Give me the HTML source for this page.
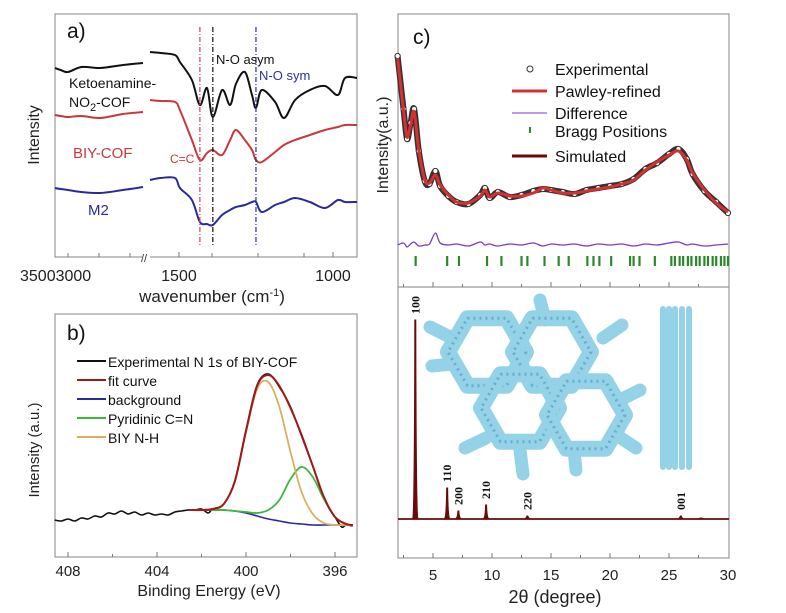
<!DOCTYPE html>
<html><head><meta charset="utf-8"><style>
html,body{margin:0;padding:0;background:#fff;}
svg{display:block;font-family:"Liberation Sans",Arial,sans-serif;}
</style></head><body>
<svg id="fig" width="786" height="613" viewBox="0 0 786 613" xmlns="http://www.w3.org/2000/svg"></svg>
<script>
// ---------- Panel a (FTIR) data ----------
const irLeftW = [3404, 3350, 3279, 3150, 2971, 2750, 2558];
const irBlackLeft = [189, 187, 185, 190, 189, 192, 194];
const irRedLeft = [142, 141, 140, 141, 139, 143, 145];
const irBlueLeft = [69, 68, 67, 65, 64, 67, 70];
const irRightW = [1594,1560,1513,1497,1458,1432,1409,1390,1360,1334,1315,1286,1263,1250,1231,1188,1159,1123,1075,1026,984,961,922];
const irBlackRight = [205,204,202,195,177,152,169,140,167,152,173,185,162,149,167,155,139,157,167,171,162,179,179];
const irRedRight = [157,156,155,147,117,97,104,107,102,117,127,117,107,97,95,105,112,117,122,127,130,132,132];
const irBlueRight = [77,79,79,69,57,35,33,32,42,47,50,52,55,55,45,52,55,59,55,49,57,55,55];
const irMarkers = [1432, 1390, 1250];
const irMarkerColors = ["#d04060", "#111", "#2030a0"];
const irTicksRight = [1500, 1000];

// ---------- Panel b (XPS) data ----------
const xpsE = [402.5,402,401.5,401,400.5,400,399.5,399,398.5,398,397.5,397,396.5,396,395.5,395.2];
const xpsBg = [47,47,47,47,46,44,41,38,36,34,33,32,32,32,32,32];
const xpsGreen = [47,47,47,47,46,45,44,47,57,78,90,80,58,40,33,32];
const xpsGold = [47,47,48,53,75,125,168,175,150,105,65,43,34,32,32,32];
const xpsFit = [47,47,48,53,76,126,171,182,171,149,122,91,60,40,33,32];
const xpsExpE = [408.6,408.3,408,407.7,407.4,407.1,406.8,406.5,406.2,405.9,405.6,405.3,405,404.7,404.4,404.1,403.8,403.5,403.2,402.9,402.6,402.3,402,401.7,401.5,401,400.5,400,399.5,399,398.5,398,397.5,397,396.5,396,395.7,395.5,395.2];
const xpsExp = [37,36,38,36,39,38,41,40,44,43,46,43,45,42,44,42,43,42,45,46,47,47,48,44,48,53,76,127,172,183,170,150,121,91,59,40,30,32,31];
const xpsTicks = [408, 404, 400, 396];

// ---------- Panel c (PXRD) data ----------
const pxTheta = [2.0,2.5,2.8,3.1,3.4,3.8,4.3,4.7,5.2,5.6,6.3,7,8,9,9.4,9.8,10.5,11.5,12.5,13.5,14.3,15,16,17,18,19,20,21,22,23,24,25,25.8,26.5,27,28,29,30];
const pxPawley = [229,177,150,162,175,137,107,104,112,102,92,85,84,91,97,90,94,91,91,94,99,97,94,94,96,98,100,103,107,117,125,132,136,127,114,97,84,75];
const pxExp = [231,178,148,164,178,136,106,103,116,101,91,85,83,92,99,89,95,90,92,96,98,97,95,93,97,99,101,103,108,118,124,133,138,128,113,96,85,74];
const pxDiff = [0,2,-2,1,3,-1,0,1,12,2,0,1,-1,3,0,1,-1,1,0,2,-1,1,0,1,-1,1,0,1,-1,1,0,2,3,0,1,-1,0,1];
const pxBragg = [3.53,6.2,7.2,9.58,10.8,12.5,13.0,14.45,15.65,16.5,18.08,18.6,19.1,20.1,21.7,22.0,22.5,23.8,25.2,25.5,25.9,26.2,26.6,26.9,27.3,27.6,28.0,28.3,28.7,29.0,29.4,29.7,30];
const simPos = [3.5,6.2,7.15,9.5,13.0,26.0,27.7];
const simHeight = [199,31,8,14,3,3,1];
const simLabels = ["100","110","200","210","220","001",""];
const pxTicks = [5,10,15,20,25,30];

const NS = "http://www.w3.org/2000/svg";
const svg = document.getElementById("fig");
function el(tag, attrs, parent, text){
  const e = document.createElementNS(NS, tag);
  for (const k in attrs) e.setAttribute(k, attrs[k]);
  if (text !== undefined) e.textContent = text;
  (parent || svg).appendChild(e);
  return e;
}
function smooth(pts){
  if (pts.length < 2) return "";
  let d = "M" + pts[0][0].toFixed(1) + "," + pts[0][1].toFixed(1);
  for (let i = 0; i < pts.length - 1; i++){
    const p0 = pts[Math.max(0,i-1)], p1 = pts[i], p2 = pts[i+1], p3 = pts[Math.min(pts.length-1,i+2)];
    const c1x = p1[0] + (p2[0]-p0[0])/6, c1y = p1[1] + (p2[1]-p0[1])/6;
    const c2x = p2[0] - (p3[0]-p1[0])/6, c2y = p2[1] - (p3[1]-p1[1])/6;
    d += " C" + c1x.toFixed(1)+","+c1y.toFixed(1)+" "+c2x.toFixed(1)+","+c2y.toFixed(1)+" "+p2[0].toFixed(1)+","+p2[1].toFixed(1);
  }
  return d;
}
function lin(d0,d1,r0,r1){ return v => r0 + (v-d0)*(r1-r0)/(d1-d0); }

// ================= Panel a =================
const ga = el("g", {});


const axL = lin(3404, 2558, 55, 143);
const axR = lin(1594, 922, 150, 357);
const ay = v => 257 - v;
let fr = el("rect", {x:55,y:14,width:302,height:243,fill:"none",stroke:"#999","stroke-width":1.2}, ga);


let brk = el("rect", {x:142,y:250,width:8,height:12,fill:"#fff"}, ga);


let brk2 = el("text", {x:141,y:262,"font-size":11,fill:"#333"}, ga, "//");


const irSeries = [
  ["ftir-ketoenamine-left", irLeftW, irBlackLeft, axL, "#111"],
  ["ftir-ketoenamine-right", irRightW, irBlackRight, axR, "#111"],
  ["ftir-biy-cof-left", irLeftW, irRedLeft, axL, "#c8383a"],
  ["ftir-biy-cof-right", irRightW, irRedRight, axR, "#c8383a"],
  ["ftir-m2-left", irLeftW, irBlueLeft, axL, "#2a2a9a"],
  ["ftir-m2-right", irRightW, irBlueRight, axR, "#2a2a9a"]
];
irSeries.forEach(s => {
  const pts = s[1].map((w,i) => [s[3](w), ay(s[2][i])]);
  const p = el("path", {d:smooth(pts), fill:"none", stroke:s[4], "stroke-width":2}, ga);
  
  
});
irMarkers.forEach((w,i) => {
  const l = el("line", {x1:axR(w),x2:axR(w),y1:27,y2:246,stroke:irMarkerColors[i],"stroke-width":1.2,"stroke-dasharray":"5,2,1,2"}, ga);
  
  
});
irTicksRight.forEach(w => {
  const t = el("line",{x1:axR(w),x2:axR(w),y1:257,y2:252,stroke:"#777"},ga);
  
  
  const tl = el("text",{x:axR(w),y:281,"font-size":16,"text-anchor":"middle",fill:"#222"},ga,String(w));
  
  
});
[68,99,130,212,258,304].forEach(x => {
  const t = el("line",{x1:x,x2:x,y1:257,y2:253,stroke:"#777"},ga);
  
  
});
let tl1 = el("text",{x:20,y:281,"font-size":16,fill:"#222"},ga,"35003000");


let axt = el("text",{x:212,y:302,"font-size":17,"text-anchor":"middle",fill:"#222"},ga,"wavenumber (cm");


el("tspan",{dy:-6,"font-size":11},axt,"-1");
el("tspan",{dy:6},axt,")");
let yta = el("text",{x:0,y:0,"font-size":16,"text-anchor":"middle",fill:"#222",transform:"translate(39,135) rotate(-90)"},ga,"Intensity");


const aLabels = [
  ["panel-a-label", 67, 38, 21, "#111", "a)"],
  ["label-no-asym", 216, 64, 13, "#111", "N-O asym"],
  ["label-no-sym", 259, 80, 13, "#3030a0", "N-O sym"],
  ["label-ketoenamine", 69, 88, 14, "#111", "Ketoenamine-"],
  ["label-biy-cof", 73, 158, 15, "#c8383a", "BIY-COF"],
  ["label-cc", 170, 163, 12, "#c8383a", "C=C"],
  ["label-m2", 88, 215, 15, "#2a2a9a", "M2"]
];
aLabels.forEach(l => {
  const t = el("text",{x:l[1],y:l[2],"font-size":l[3],fill:l[4]},ga,l[5]);
  
  
});
let no2 = el("text",{x:69,y:107,"font-size":14,fill:"#111"},ga,"NO");


el("tspan",{dy:4,"font-size":11},no2,"2");
el("tspan",{dy:-4},no2,"-COF");
let ytc = el("text",{x:0,y:0,"font-size":16,"text-anchor":"middle",fill:"#222",transform:"translate(388,145) rotate(-90)"},svg,"Intensity(a.u.)");



// ================= Panel b =================
const gb = el("g", {});


const bx = lin(408, 396, 68, 335);
const by = v => 557 - v;
let frb = el("rect",{x:55,y:314,width:302,height:243,fill:"none",stroke:"#999","stroke-width":1.2},gb);


const xpsSeries = [
  ["xps-experimental", xpsExpE, xpsExp, "#111", 1.6],
  ["xps-background", xpsE, xpsBg, "#2a2aa0", 1.6],
  ["xps-pyridinic", xpsE, xpsGreen, "#3ab83a", 1.8],
  ["xps-biy-nh", xpsE, xpsGold, "#d8b060", 1.8],
  ["xps-fit-curve", xpsE, xpsFit, "#a01818", 2]
];
xpsSeries.forEach(s => {
  const pts = s[1].map((e,i) => [bx(e), by(s[2][i])]);
  const p = el("path",{d:smooth(pts),fill:"none",stroke:s[3],"stroke-width":s[4]},gb);
  
  
});
xpsTicks.forEach(e => {
  const t = el("line",{x1:bx(e),x2:bx(e),y1:557,y2:552,stroke:"#777"},gb);
  
  
  const tl = el("text",{x:bx(e),y:576,"font-size":15,"text-anchor":"middle",fill:"#222"},gb,String(e));
  
  
});
[406,402,398].forEach(e => {
  const t = el("line",{x1:bx(e),x2:bx(e),y1:557,y2:554,stroke:"#777"},gb);
  
  
});
let xtb = el("text",{x:209,y:596,"font-size":16,"text-anchor":"middle",fill:"#222"},gb,"Binding Energy (eV)");


let ytb = el("text",{x:0,y:0,"font-size":15,"text-anchor":"middle",fill:"#222",transform:"translate(39,450) rotate(-90)"},gb,"Intensity (a.u.)");


let pb = el("text",{x:67,y:340,"font-size":21,fill:"#111"},gb,"b)");


const bLeg = [["Experimental N 1s of BIY-COF","#111"],["fit curve","#a01818"],["background","#2a2aa0"],["Pyridinic C=N","#3ab83a"],["BIY N-H","#d8b060"]];
bLeg.forEach((l,i) => {
  const y = 362 + i*19;
  const ln = el("line",{x1:77,x2:106,y1:y-1,y2:y-1,stroke:l[1],"stroke-width":2},gb);
  
  
  const t = el("text",{x:108,y:y+5,"font-size":14,fill:"#111"},gb,l[0]);
  
  
});

// ================= Panel c =================
const gc = el("g", {});


const cx = lin(5, 30, 433, 728);
const cyTop = v => 287 - v;
let frc = el("rect",{x:398,y:14,width:331,height:544,fill:"none",stroke:"#999","stroke-width":1.2},gc);


let sep = el("line",{x1:398,x2:729,y1:287,y2:287,stroke:"#999","stroke-width":1.2},gc);


[2.5,5,7.5,10,12.5,15,17.5,20,22.5,25,27.5].forEach(t => {
  const big = t % 5 === 0;
  [287,558].forEach(yb => {
    const tk = el("line",{x1:cx(t),x2:cx(t),y1:yb,y2:yb-(big?5:3),stroke:"#777"},gc);
    
    
  });
});
pxTicks.forEach(t => {
  const tl = el("text",{x:cx(t),y:580,"font-size":15,"text-anchor":"middle",fill:"#222"},gc,String(t));
  
  
});
let xtc = el("text",{x:555,y:603,"font-size":18,"text-anchor":"middle",fill:"#222"},gc,"2θ (degree)");


let pc = el("text",{x:413,y:44,"font-size":21,fill:"#111"},gc,"c)");


const expPts = pxTheta.map((t,i) => [cx(t), cyTop(pxExp[i])]);
let eb = el("path",{d:smooth(expPts),fill:"none",stroke:"#333","stroke-width":6},gc);


expPts.forEach(p => {
  const c = el("circle",{cx:p[0],cy:p[1],r:2.6,fill:"#fff",stroke:"#333","stroke-width":1},gc);
  
  
});
const pawPts = pxTheta.map((t,i) => [cx(t), cyTop(pxPawley[i])]);
let pw = el("path",{d:smooth(pawPts),fill:"none",stroke:"#d83030","stroke-width":3},gc);


const diffPts = pxTheta.map((t,i) => [cx(t), 245 - pxDiff[i]]);
let df = el("path",{d:smooth(diffPts),fill:"none",stroke:"#7a3ad0","stroke-width":1.3},gc);


pxBragg.forEach(t => {
  const b = el("line",{x1:cx(t),x2:cx(t),y1:256,y2:266,stroke:"#2a8a2a","stroke-width":2.2},gc);
  
  
});
let lc = el("circle",{cx:530,cy:69,r:3,fill:"#fff",stroke:"#333"},gc);


const cLeg = [["Experimental",75,null],["Pawley-refined",97,"#d83030"],["Difference",119,"#7a3ad0"],["Bragg Positions",137,"bragg"],["Simulated",162,"#6a0a0a"]];
cLeg.forEach(l => {
  if (l[2] === "bragg"){
    const m = el("line",{x1:530,x2:530,y1:127,y2:133,stroke:"#2a8a2a","stroke-width":2},gc);
    
    
  } else if (l[2]){
    const m = el("line",{x1:512,x2:547,y1:l[1]-6,y2:l[1]-6,stroke:l[2],"stroke-width":l[2]==="#7a3ad0"?1:3},gc);
    
    
  }
  const t = el("text",{x:555,y:l[1],"font-size":16,fill:"#111"},gc,l[0]);
  
  
});
// COF structure illustration
const gs = el("g",{},gc);


function hexPts(cxp, cyp, r){
  let s = "";
  for (let k=0;k<6;k++){ const a = Math.PI/180*(60*k); s += (cxp + r*Math.cos(a)).toFixed(1)+","+(cyp + r*Math.sin(a)).toFixed(1)+" "; }
  return s;
}
[[430,327,450,337],[540,300,545,320],[622,325,603,338],[432,366,452,364],[640,390,620,400],[465,448,486,438],[636,448,618,436],[523,474,520,450],[576,470,574,450]].forEach(a => {
  const arm = el("line",{x1:a[0],y1:a[1],x2:a[2],y2:a[3],stroke:"#94d2e8","stroke-width":13,"stroke-linecap":"round"},gs);
  
  
});
[[487,352],[552,352],[520,408],[586,415]].forEach(c => {
  const h = el("polygon",{points:hexPts(c[0],c[1],39),fill:"none",stroke:"#94d2e8","stroke-width":16,"stroke-linejoin":"round"},gs);
  
  
  const h2 = el("polygon",{points:hexPts(c[0],c[1],39),fill:"none",stroke:"#6aaccc","stroke-width":3,"stroke-dasharray":"2,4","stroke-linejoin":"round"},gs);
  
  
});
[663,669,675,682,689].forEach(x => {
  const col = el("rect",{x:x-3,y:306,width:6,height:164,rx:3,fill:"#94d2e8"},gs);
  
  
});
// simulated pattern
const sy = v => 519 - v;
let sb = el("line",{x1:398,x2:729,y1:519,y2:519,stroke:"#6a0a0a","stroke-width":1.8},gc);


simPos.forEach((t,i) => {
  const x = cx(t), w = 1.4;
  const p = el("path",{d:`M${x-w-1.5},519 Q${x-w*0.6},518 ${x-0.5},${sy(simHeight[i])} L${x+0.5},${sy(simHeight[i])} Q${x+w*0.6},518 ${x+w+1.5},519`,fill:"#6a0a0a",stroke:"#6a0a0a","stroke-width":1},gc);
  
  
  if (simLabels[i]){
    const ly = sy(simHeight[i]) - 6;
    const lt = el("text",{x:0,y:0,"font-size":12,"font-weight":"bold","font-family":"Liberation Serif, serif",fill:"#111",transform:`translate(${x+4},${ly}) rotate(-90)`},gc,simLabels[i]);
    
    
  }
});
</script>
</body></html>
